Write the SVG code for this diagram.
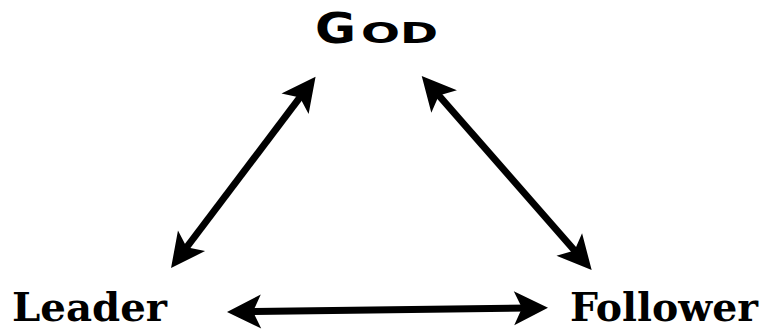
<svg xmlns="http://www.w3.org/2000/svg" width="768" height="331" viewBox="0 0 768 331">
<style>
.lbl{font-family:"DejaVu Serif","Liberation Serif",serif;font-weight:bold;font-size:40px;fill:#000}
.god{font-family:"DejaVu Sans","Liberation Sans",sans-serif;font-weight:bold;fill:#000}
.arr{stroke:#000;stroke-width:7;fill:none;marker-start:url(#ah);marker-end:url(#ah)}
</style>
<defs>
<marker id="ah" markerUnits="userSpaceOnUse" refX="0" refY="0" markerWidth="60" markerHeight="60" orient="auto-start-reverse" overflow="visible">
<path d="M20,0 L-14,-17 L-6,0 L-14,17 Z" fill="#000"/>
</marker>
</defs>
<rect width="768" height="331" fill="#fff"/>
<g id="god">
<text class="god" y="43"><tspan x="315" font-size="42" textLength="41" lengthAdjust="spacingAndGlyphs">G</tspan><tspan x="361" font-size="29" textLength="77" lengthAdjust="spacingAndGlyphs">OD</tspan></text>
</g>
<g id="leader">
<text class="lbl" x="12" y="321" textLength="155" lengthAdjust="spacingAndGlyphs">Leader</text>
</g>
<g id="follower">
<text class="lbl" x="570" y="321" textLength="188" lengthAdjust="spacingAndGlyphs">Follower</text>
</g>
<g id="connectors">
<line class="arr" x1="183.1" y1="252" x2="303.5" y2="92.7"/>
<line class="arr" x1="434.9" y1="91" x2="578.5" y2="255"/>
<line class="arr" x1="247" y1="311.7" x2="528" y2="308"/>
</g>
</svg>
